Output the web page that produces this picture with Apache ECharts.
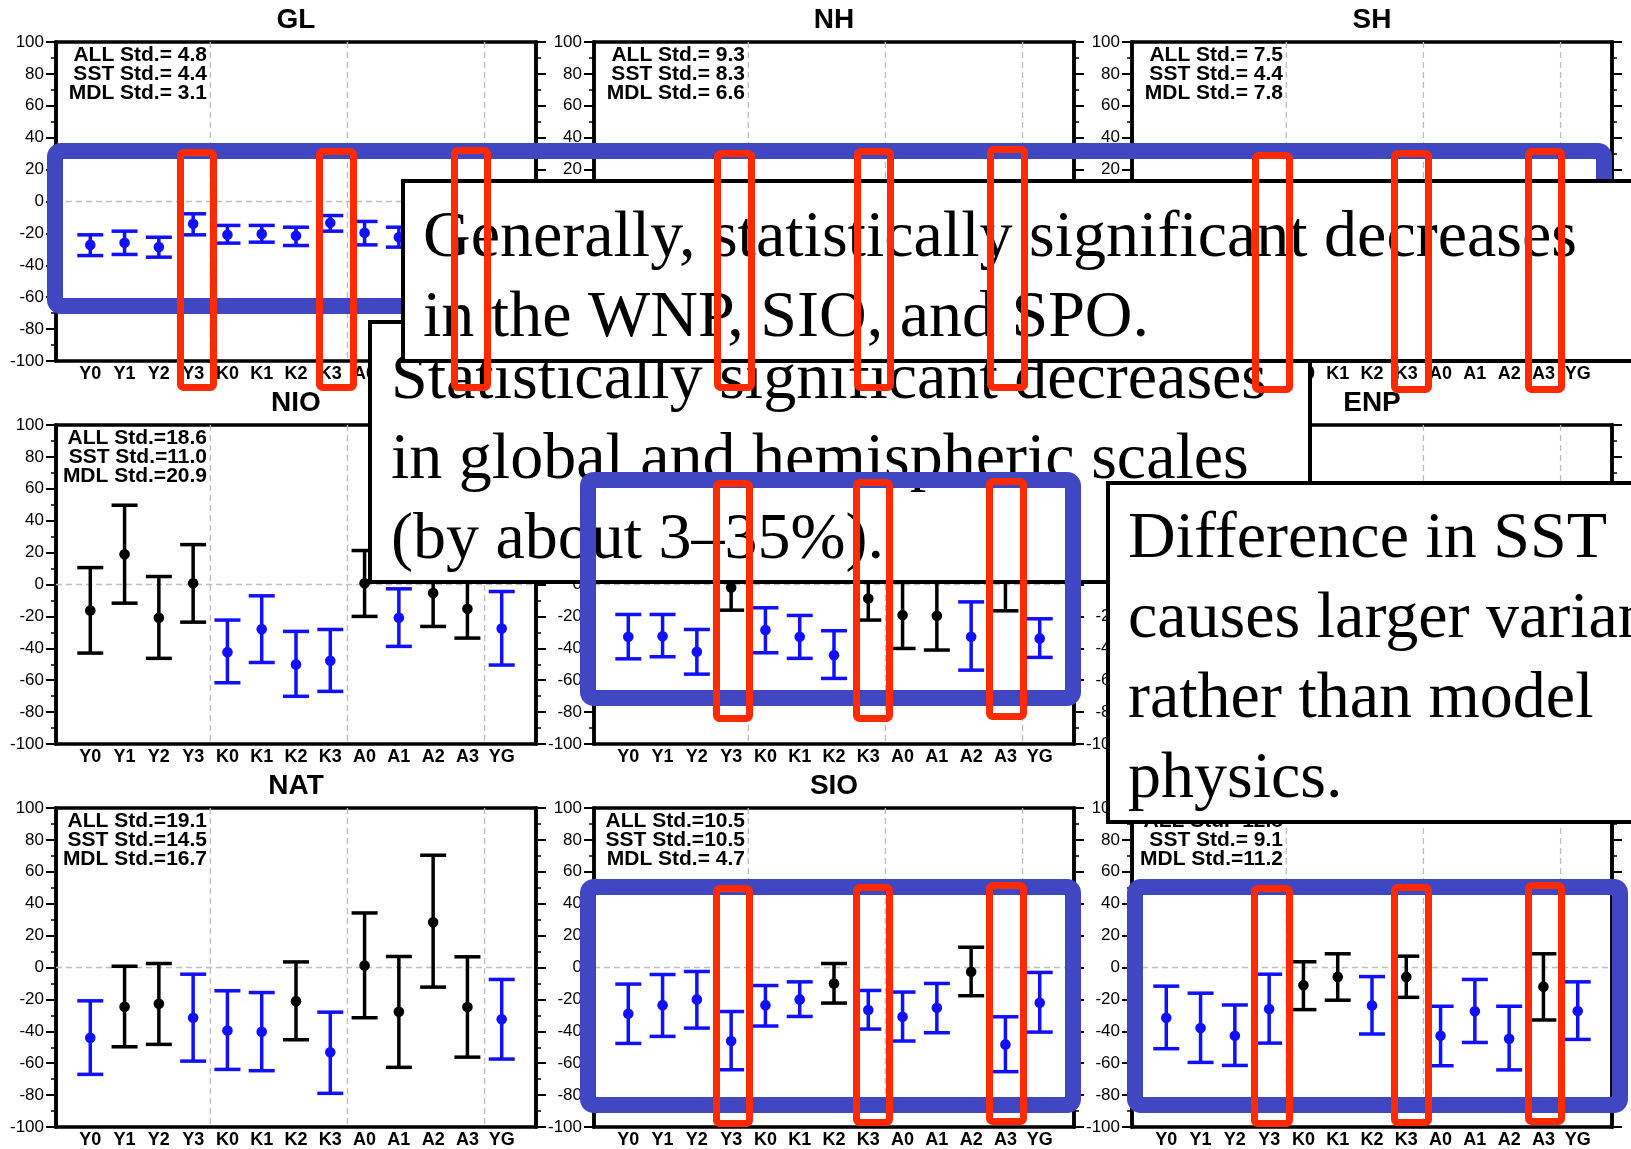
<!DOCTYPE html>
<html>
<head>
<meta charset="utf-8">
<script src="https://cdn.jsdelivr.net/npm/echarts@6/dist/echarts.min.js"></script>
<style>
html,body{margin:0;padding:0;background:#fff;}
#chart{width:1631px;height:1149px;}
</style>
</head>
<body>
<div id="chart"></div>
<script>
// ---------------- DATA ----------------
const categories = ['Y0','Y1','Y2','Y3','K0','K1','K2','K3','A0','A1','A2','A3','YG'];
const regions = ['GL','NH','SH','NIO','WNP','ENP','NAT','SIO','SPO'];
const yTickValues = [-100,-80,-60,-40,-20,0,20,40,60,80,100];
const dividerX = [3.5, 7.5, 11.5];

const ALL_std = [4.8, 9.3, 7.5, 18.6, null, null, 19.1, 10.5, 12.8];
const SST_std = [4.4, 8.3, 4.4, 11.0, null, null, 14.5, 10.5, 9.1];
const MDL_std = [3.1, 6.6, 7.8, 20.9, null, null, 16.7, 4.7, 11.2];

const N = null;
const GL_mean = [-27.2,-25.9,-28.6,-14.0,-20.9,-20.3,-21.5,-13.4,-19.6,-22.4,N,N,N];
const GL_low  = [-33.9,-33.2,-34.9,-20.9,-26.1,-25.5,-27.6,-18.6,-27.2,-28.6,N,N,N];
const GL_high = [-20.9,-18.6,-22.4,-7.7,-15.0,-15.0,-16.1,-8.8,-12.5,-16.1,N,N,N];
const GL_sig  = [1,1,1,1,1,1,1,1,1,1,N,N,N];

const NH_mean = [N,N,N,N,N,N,N,N,N,N,N,N,N];
const NH_low  = [N,N,N,N,N,N,N,N,N,N,N,N,N];
const NH_high = [N,N,N,N,N,N,N,N,N,N,N,N,N];
const NH_sig  = [N,N,N,N,N,N,N,N,N,N,N,N,N];

const SH_mean = [N,N,N,N,N,N,N,N,N,N,N,N,N];
const SH_low  = [N,N,N,N,N,N,N,N,N,N,N,N,N];
const SH_high = [N,N,N,N,N,N,N,N,N,N,N,N,N];
const SH_sig  = [N,N,N,N,N,N,N,N,N,N,N,N,N];

const NIO_mean = [-16.3,19.0,-20.9,0.8,-42.4,-28.0,-50.1,-47.8,0.8,-20.9,-5.4,-15.2,-27.6];
const NIO_low  = [-43.0,-11.7,-46.3,-23.6,-61.6,-48.9,-70.1,-67.0,-20.0,-38.8,-26.3,-33.6,-50.5];
const NIO_high = [10.6,49.7,5.0,25.0,-22.3,-7.1,-29.4,-28.2,21.3,-2.7,15.5,3.2,-4.4];
const NIO_sig  = [0,0,0,0,1,1,1,1,0,1,0,0,1];

const WNP_mean = [-32.8,-32.4,-42.2,-1.9,-28.6,-32.8,-44.3,-8.8,-19.2,-19.6,-32.8,4.0,-33.8];
const WNP_low  = [-46.6,-45.3,-56.2,-16.1,-42.8,-46.3,-58.9,-22.3,-40.1,-41.1,-53.7,-16.5,-45.7];
const WNP_high = [-18.8,-18.8,-28.2,12.3,-14.6,-19.4,-29.0,4.7,1.7,1.9,-10.9,24.5,-21.5];
const WNP_sig  = [1,1,1,0,1,1,1,0,0,0,1,0,1];

const ENP_mean = [N,N,N,N,N,N,N,N,N,N,N,N,N];
const ENP_low  = [N,N,N,N,N,N,N,N,N,N,N,N,N];
const ENP_high = [N,N,N,N,N,N,N,N,N,N,N,N,N];
const ENP_sig  = [N,N,N,N,N,N,N,N,N,N,N,N,N];

const NAT_mean = [-44.1,-24.6,-22.8,-31.5,-39.5,-40.3,-21.1,-53.2,1.3,-27.8,28.4,-24.8,-32.4];
const NAT_low  = [-67.0,-49.7,-48.2,-58.7,-63.9,-64.7,-45.3,-78.9,-31.5,-62.6,-12.3,-56.2,-57.4];
const NAT_high = [-20.9,0.8,2.5,-4.2,-14.6,-15.7,3.5,-28.0,34.2,6.9,70.4,6.7,-7.5];
const NAT_sig  = [1,0,0,1,1,1,0,1,0,0,0,0,1];

const SIO_mean = [-29.0,-23.6,-20.0,-46.1,-23.6,-20.0,-10.0,-26.7,-30.9,-25.3,-2.7,-48.2,-22.1];
const SIO_low  = [-47.6,-43.2,-38.0,-64.1,-36.7,-30.7,-22.3,-38.6,-46.1,-40.9,-17.7,-65.3,-40.5];
const SIO_high = [-10.4,-4.4,-2.5,-27.6,-11.3,-9.0,2.5,-14.4,-15.4,-10.0,12.7,-30.9,-3.1];
const SIO_sig  = [1,1,1,1,1,1,0,1,1,1,0,1,1];

const SPO_mean = [-31.5,-37.9,-42.8,-26.0,-11.1,-5.9,-23.9,-5.9,-42.8,-27.5,-44.7,-12.0,-27.3];
const SPO_low  = [-50.9,-59.5,-61.4,-47.4,-26.4,-20.5,-41.7,-18.7,-61.6,-47.0,-64.2,-32.9,-45.1];
const SPO_high = [-11.7,-16.1,-23.5,-4.2,3.6,8.6,-5.7,7.1,-24.3,-7.5,-24.3,8.6,-9.0];
const SPO_sig  = [1,1,1,1,0,0,1,0,1,1,1,0,1];

const boxA_text = 'Generally, statistically significant decreases\nin the WNP, SIO, and SPO.';
const boxB_text = 'Statistically significant decreases\nin global and hemispheric scales\n(by about 3\u201335%).';
const boxC_text = 'Difference in SST\ncauses larger variance\nrather than model\nphysics.';

// ---------------- LAYOUT ----------------
const panelData = [
  [GL_mean, GL_low, GL_high, GL_sig],
  [NH_mean, NH_low, NH_high, NH_sig],
  [SH_mean, SH_low, SH_high, SH_sig],
  [NIO_mean, NIO_low, NIO_high, NIO_sig],
  [WNP_mean, WNP_low, WNP_high, WNP_sig],
  [ENP_mean, ENP_low, ENP_high, ENP_sig],
  [NAT_mean, NAT_low, NAT_high, NAT_sig],
  [SIO_mean, SIO_low, SIO_high, SIO_sig],
  [SPO_mean, SPO_low, SPO_high, SPO_sig]
];
const colLeft = [56, 594, 1132];
const rowTop = [42, 425, 808];
const GW = 480, GH = 319;
const BLUE = '#1010ff';
const SANS = '"Liberation Sans", Arial, sans-serif';
const SERIF = '"Liberation Serif", "Times New Roman", serif';

const grids = [], xAxes = [], yAxes = [], series = [], graphics = [];

function fmtStd(v){ return v.toFixed(1).padStart(4,' '); }

for (let i = 0; i < 9; i++) {
  const L = colLeft[i % 3], T = rowTop[Math.floor(i / 3)];
  grids.push({left: L, top: T, width: GW, height: GH, show: true,
    borderColor: '#000', borderWidth: 3.5, backgroundColor: 'rgba(0,0,0,0)'});
  xAxes.push({gridIndex: i, type: 'value', min: -1, max: 13, interval: 1, position: 'bottom',
    axisLine: {show: false, onZero: false}, axisTick: {show: false}, splitLine: {show: false},
    axisLabel: {
      formatter: v => (v >= 0 && v <= 12) ? categories[Math.round(v)] : '',
      fontSize: 18, fontWeight: 'bold', color: '#000', margin: 4, fontFamily: SANS,
      showMinLabel: true, showMaxLabel: true, hideOverlap: false
    }});
  const yBase = {gridIndex: i, type: 'value', min: yTickValues[0], max: yTickValues[yTickValues.length-1], interval: 20,
    axisLine: {show: true, onZero: false, lineStyle: {color: '#000', width: 3.5}},
    axisTick: {show: true, inside: false, length: 10, lineStyle: {color: '#000', width: 2}},
    minorTick: {show: true, splitNumber: 2, length: 5, lineStyle: {color: '#000', width: 1.5}},
    splitLine: {show: false}, minorSplitLine: {show: false}};
  yAxes.push(Object.assign({}, yBase, {position: 'left',
    axisLabel: {fontSize: 17, color: '#000', margin: 12, fontFamily: SANS}}));
  yAxes.push(Object.assign({}, yBase, {position: 'right', axisLabel: {show: false}}));

  // dashed dividers
  series.push({type: 'custom', xAxisIndex: i, yAxisIndex: 2*i, z: 1, silent: true,
    data: dividerX.map(x => [x]),
    renderItem: (p, api) => {
      const a = api.coord([api.value(0), 100]), b = api.coord([api.value(0), -100]);
      return {type: 'line', shape: {x1: a[0], y1: a[1], x2: b[0], y2: b[1]},
        style: {stroke: '#bdbdbd', lineWidth: 1.3, lineDash: [6, 4]}};
    }});
  series.push({type: 'custom', xAxisIndex: i, yAxisIndex: 2*i, z: 1, silent: true,
    data: [[0]],
    renderItem: (p, api) => {
      const a = api.coord([-1, api.value(0)]), b = api.coord([13, api.value(0)]);
      return {type: 'line', shape: {x1: a[0], y1: a[1], x2: b[0], y2: b[1]},
        style: {stroke: '#bdbdbd', lineWidth: 1.3, lineDash: [6, 4]}};
    }});

  // error bars
  const [mean, low, high, sig] = panelData[i];
  const d = [];
  categories.forEach((c, j) => {
    if (mean[j] !== null) d.push([j, mean[j], low[j], high[j], sig[j]]);
  });
  series.push({type: 'custom', xAxisIndex: i, yAxisIndex: 2*i, z: 3, silent: true,
    encode: {x: 0, y: [1, 2, 3]}, data: d,
    renderItem: (p, api) => {
      const x = api.value(0), m = api.value(1), lo = api.value(2), hi = api.value(3), s = api.value(4);
      const pm = api.coord([x, m]), pl = api.coord([x, lo]), ph = api.coord([x, hi]);
      const c = s ? BLUE : '#000';
      const hw = 13;
      const st = {stroke: c, lineWidth: 3.5, fill: null};
      return {type: 'group', children: [
        {type: 'line', shape: {x1: pl[0], y1: pl[1], x2: ph[0], y2: ph[1]}, style: st},
        {type: 'line', shape: {x1: pl[0]-hw, y1: pl[1], x2: pl[0]+hw, y2: pl[1]}, style: st},
        {type: 'line', shape: {x1: ph[0]-hw, y1: ph[1], x2: ph[0]+hw, y2: ph[1]}, style: st},
        {type: 'circle', shape: {cx: pm[0], cy: pm[1], r: 5.3}, style: {fill: c}}
      ]};
    }});

  // title
  graphics.push({type: 'text', x: L + GW/2, y: T - 22, z: 10,
    style: {text: regions[i], fontSize: 28, fontWeight: 'bold', fontFamily: SANS,
      fill: '#000', textAlign: 'center', verticalAlign: 'middle'}});
  // std text
  if (ALL_std[i] !== null) {
    graphics.push({type: 'text', x: L + 151, y: T + 4, z: 10,
      style: {text: 'ALL Std.=' + fmtStd(ALL_std[i]) + '\nSST Std.=' + fmtStd(SST_std[i]) + '\nMDL Std.=' + fmtStd(MDL_std[i]),
        fontSize: 21, fontWeight: 'bold', fontFamily: SANS, lineHeight: 19,
        fill: '#000', textAlign: 'right', verticalAlign: 'top'}});
  }
}

// ---------------- OVERLAY ANNOTATIONS ----------------
const BLUE_BOX = '#3F47C3';
const RED_BOX = '#FF2A00';
function frame(x1, y1, x2, y2, color, w, z, r) {
  return {type: 'rect', z: z, shape: {x: x1, y: y1, width: x2 - x1, height: y2 - y1, r: r},
    style: {fill: 'rgba(0,0,0,0)', stroke: color, lineWidth: w}};
}
function textBox(x1, y1, x2, y2, txt, tx, ty, z) {
  return [
    {type: 'rect', z: z, shape: {x: x1, y: y1, width: x2 - x1, height: y2 - y1},
      style: {fill: '#fff', stroke: '#000', lineWidth: 4}},
    {type: 'text', z: z + 0.5, x: tx, y: ty,
      style: {text: txt, fontSize: 66, fontFamily: SERIF, lineHeight: 80,
        fill: '#000', textAlign: 'left', verticalAlign: 'top'}}
  ];
}
// box B
graphics.push(...textBox(370, 322, 1310, 582, boxB_text, 391, 341, 100));
// box C
graphics.push(...textBox(1108, 483, 1700, 822, boxC_text, 1128, 500, 102));
// top blue
graphics.push(frame(55, 151, 1604, 306, BLUE_BOX, 16, 104, 6));
// box A
graphics.push(...textBox(403, 181, 1700, 361, boxA_text, 423, 199, 106));
// top red
[[177,149,217,391],[316,148,357,391],[451,147,491,391],
 [714,150,755,391],[854,148,894,391],[987,146,1028,391],
 [1252,152,1293,393],[1391,150,1432,393],[1525,148,1565,393]].forEach(r => {
  graphics.push(frame(r[0]+3.5, r[1]+3.5, r[2]-3.5, r[3]-3.5, RED_BOX, 7, 108, 3));
});
// middle blue + red
graphics.push(frame(588, 480, 1073, 698, BLUE_BOX, 16, 110, 6));
[[713,480,753,722],[853,479,893,722],[986,478,1027,720]].forEach(r => {
  graphics.push(frame(r[0]+3.5, r[1]+3.5, r[2]-3.5, r[3]-3.5, RED_BOX, 7, 112, 3));
});
// bottom blue + red
graphics.push(frame(588, 887, 1073, 1105, BLUE_BOX, 16, 114, 6));
graphics.push(frame(1135, 887, 1620, 1105, BLUE_BOX, 16, 114, 6));
[[713,885,753,1127],[853,884,893,1126],[986,882,1027,1125],
 [1251,885,1293,1127],[1391,884,1432,1126],[1525,882,1565,1125]].forEach(r => {
  graphics.push(frame(r[0]+3.5, r[1]+3.5, r[2]-3.5, r[3]-3.5, RED_BOX, 7, 116, 3));
});

const chart = echarts.init(document.getElementById('chart'), null, {renderer: 'canvas', devicePixelRatio: 1});
chart.setOption({
  animation: false,
  backgroundColor: '#fff',
  grid: grids,
  xAxis: xAxes,
  yAxis: yAxes,
  series: series,
  graphic: {elements: graphics}
});
</script>
</body>
</html>
